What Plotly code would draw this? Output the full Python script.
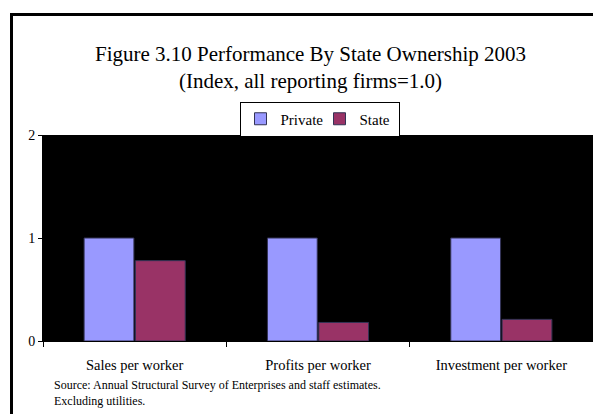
import plotly.graph_objects as go

categories = ["Sales per worker", "Profits per worker", "Investment per worker"]
private = [1.0, 1.0, 1.0]
state = [0.78, 0.18, 0.21]

serif = "Liberation Serif, Times New Roman, serif"

# pixel helpers -> paper coords (plot area 43..593 x, 135..341 y)
L, T, B, W, H = 43, 135, 73, 593, 414
pw = W - L
ph = H - T - B


def px(x):
    return (x - L) / pw


def py(y):
    return (H - B - y) / ph


fig = go.Figure()
fig.add_bar(x=categories, y=private, name="Private",
            marker=dict(color="#9999FF", line=dict(color="#333355", width=1)))
fig.add_bar(x=categories, y=state, name="State",
            marker=dict(color="#993366", line=dict(color="#333355", width=1)))

fig.update_layout(
    width=W, height=H,
    margin=dict(l=L, r=0, t=T, b=B),
    paper_bgcolor="white",
    plot_bgcolor="black",
    font=dict(family=serif, size=14, color="black"),
    barmode="group",
    bargap=0.44,
    bargroupgap=0.03,
    showlegend=True,
    legend=dict(
        orientation="h",
        x=px(319.5), xanchor="center",
        y=py(119), yanchor="middle",
        bordercolor="black", borderwidth=1, bgcolor="white",
        font=dict(family=serif, size=15),
        itemwidth=30, entrywidth=34,
        itemclick=False,
    ),
)

fig.update_yaxes(
    range=[0, 2], tickvals=[0, 1, 2], showgrid=False, zeroline=False,
    showline=True, linecolor="black", linewidth=1,
    ticks="outside", ticklen=4, tickcolor="black",
    tickfont=dict(family=serif, size=14),
)
fig.update_xaxes(
    showgrid=False, showline=True, linecolor="black", linewidth=1,
    ticks="outside", ticklen=5, tickcolor="black", tickson="boundaries",
    ticklabelstandoff=11,
    tickfont=dict(family=serif, size=14.5),
)

fig.add_annotation(
    x=px(310), y=py(68), xref="paper", yref="paper", yanchor="middle",
    text="Figure 3.10 Performance By State Ownership 2003<br>(Index, all reporting firms=1.0)",
    showarrow=False, font=dict(family=serif, size=21),
)
fig.add_annotation(
    x=px(52), y=py(376), xref="paper", yref="paper",
    xanchor="left", yanchor="top", align="left",
    text="Source: Annual Structural Survey of Enterprises and staff estimates.<br>Excluding utilities.",
    showarrow=False, font=dict(family=serif, size=12),
)

# outer frame of the chart object
fig.add_shape(type="rect", xref="paper", yref="paper",
              x0=px(11.5), y0=py(14.5), x1=px(620), y1=py(440),
              line=dict(color="black", width=3))

fig.write_html("out.html", config={"displayModeBar": False},
               post_script="document.body.style.margin='0';")
